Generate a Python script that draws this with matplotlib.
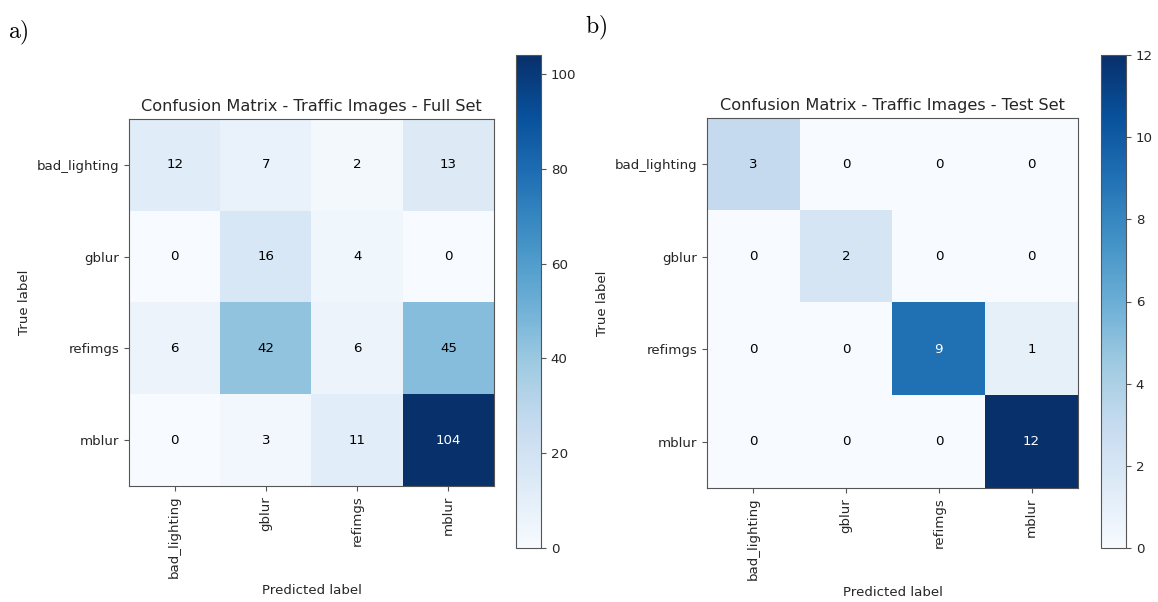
import numpy as np
import matplotlib.pyplot as plt

classes = ['bad_lighting', 'gblur', 'refimgs', 'mblur']

cm_full = np.array([[12, 7, 2, 13],
                    [0, 16, 4, 0],
                    [6, 42, 6, 45],
                    [0, 3, 11, 104]])

cm_test = np.array([[3, 0, 0, 0],
                    [0, 2, 0, 0],
                    [0, 0, 9, 1],
                    [0, 0, 0, 12]])

titles = ['Confusion Matrix - Traffic Images - Full Set',
          'Confusion Matrix - Traffic Images - Test Set']
panel_tags = ['a)', 'b)']

plt.rcParams['mathtext.fontset'] = 'cm'
txt_col = '#262626'
fs = 9.6


# Draw one confusion matrix with its colorbar
def plot_confusion_matrix(fig, cm, title, ax_rect, cb_rect):
    ax = fig.add_axes(ax_rect)
    im = ax.imshow(cm, interpolation='nearest', cmap=plt.cm.Blues, aspect='auto')
    ax.set_title(title, fontsize=11.6, color=txt_col, pad=6)
    ticks = np.arange(len(classes))
    ax.set_xticks(ticks)
    ax.set_xticklabels(classes, rotation=90, fontsize=fs, color=txt_col)
    ax.set_yticks(ticks)
    ax.set_yticklabels(classes, fontsize=fs, color=txt_col)
    for s in ax.spines.values():
        s.set_color('#555555')
    ax.tick_params(color='#555555')

    thresh = cm.max() / 2.
    for i in range(cm.shape[0]):
        for j in range(cm.shape[1]):
            ax.text(j, i, format(cm[i, j], 'd'), ha='center', va='center',
                    fontsize=fs, color='white' if cm[i, j] > thresh else 'black')

    ax.set_ylabel('True label', fontsize=fs, color=txt_col)
    ax.set_xlabel('Predicted label', fontsize=fs, color=txt_col)

    cax = fig.add_axes(cb_rect)
    cb = fig.colorbar(im, cax=cax)
    cb.ax.tick_params(labelsize=fs, labelcolor=txt_col, color='#555555')
    cb.outline.set_edgecolor('#555555')
    return ax


W, H = 1158, 602
fig = plt.figure(figsize=(W / 100, H / 100), dpi=100)


def rect(x0, y0, x1, y1):
    return [x0 / W, 1 - y1 / H, (x1 - x0) / W, (y1 - y0) / H]


plot_confusion_matrix(fig, cm_full, titles[0], rect(129, 119, 494, 486), rect(516, 55, 541, 548))
plot_confusion_matrix(fig, cm_test, titles[1], rect(707, 118, 1078, 488), rect(1101, 55, 1126, 548))

fig.text(8 / W, 1 - 38 / H, r'$\mathrm{' + panel_tags[0] + '}$', fontsize=17)
fig.text(585 / W, 1 - 33 / H, r'$\mathrm{' + panel_tags[1] + '}$', fontsize=17)

fig.savefig('out.png', dpi=100)
